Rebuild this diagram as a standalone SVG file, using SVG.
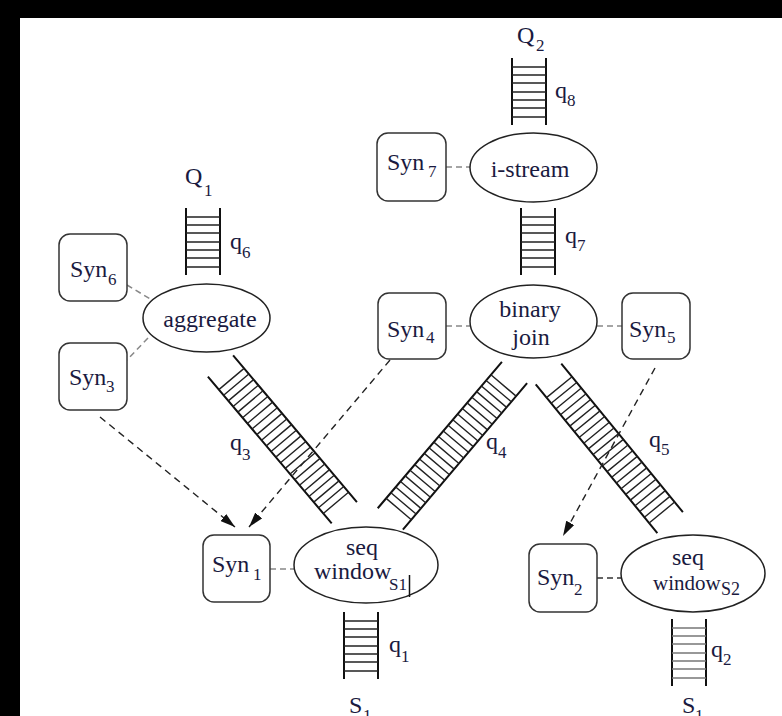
<svg xmlns="http://www.w3.org/2000/svg" xmlns:xlink="http://www.w3.org/1999/xlink" width="782" height="716" viewBox="0 0 782 716">
  <style>
    .t{font-family:"Liberation Serif","Times New Roman",serif;font-size:24px;fill:#1a1a40}
    .s{font-size:17px}
    .c{text-anchor:middle}
    .box{fill:#fff;stroke:#333;stroke-width:1.5}
    .op{fill:#fff;stroke:#222;stroke-width:1.5}
    .rail{stroke:#111;stroke-width:2;fill:none}
    .rung{stroke:#222;stroke-width:1.4;fill:none}
    .rung.lt{stroke:#777}
    .link{stroke:#888;stroke-width:1.5;stroke-dasharray:6 4;fill:none}
    .link.dk{stroke:#333}
    .arr{stroke:#222;stroke-width:1.4;stroke-dasharray:7 5;fill:none;marker-end:url(#ah)}
  </style>
  <defs>
    <marker id="ah" markerWidth="15" markerHeight="9" refX="15" refY="4.5" orient="auto" markerUnits="userSpaceOnUse">
      <path d="M0,0 L15,4.5 L0,9 z" fill="#111"/>
    </marker>
    <!-- upright queue: 34 wide, 67 tall -->
    <g id="vq">
      <path class="rail" d="M0,0 V67 M34,0 V67"/>
      <path class="rung" d="M0,9 H34 M0,17 H34 M0,25 H34 M0,34 H34 M0,42 H34 M0,50 H34 M0,59 H34"/>
    </g>
    <g id="vq-light">
      <path class="rail" d="M0,0 V67 M34,0 V67"/>
      <path class="rung lt" d="M0,9 H34 M0,17 H34 M0,25 H34 M0,34 H34 M0,42 H34 M0,50 H34 M0,59 H34"/>
    </g>
    <!-- long queue, laid along +x, centred on y=0 -->
    <g id="dq">
      <path class="rail" d="M0,-16.5 H192 M0,16.5 H192"/>
      <path class="rung" d="M17,-16.5 V16.5 M24.4,-16.5 V16.5 M31.7,-16.5 V16.5 M39.1,-16.5 V16.5 M46.4,-16.5 V16.5 M53.8,-16.5 V16.5 M61.2,-16.5 V16.5 M68.5,-16.5 V16.5 M75.9,-16.5 V16.5 M83.2,-16.5 V16.5 M90.6,-16.5 V16.5 M98,-16.5 V16.5 M105.3,-16.5 V16.5 M112.7,-16.5 V16.5 M120,-16.5 V16.5 M127.4,-16.5 V16.5 M134.8,-16.5 V16.5 M142.1,-16.5 V16.5 M149.5,-16.5 V16.5 M156.8,-16.5 V16.5 M164.2,-16.5 V16.5 M171.6,-16.5 V16.5 M179,-16.5 V16.5"/>
    </g>
  </defs>

  <!-- frame -->
  <rect x="0" y="0" width="782" height="716" fill="#fff"/>
  <rect x="0" y="0" width="782" height="18" fill="#000"/>
  <rect x="0" y="0" width="20" height="716" fill="#000"/>

  <!-- queues -->
  <g id="q8">
    <use xlink:href="#vq" x="512" y="58"/>
    <text class="t" x="517" y="43">Q</text><text class="t s" x="536" y="51">2</text>
    <text class="t" x="555" y="98">q</text><text class="t s" x="567" y="106">8</text>
  </g>
  <g id="q7">
    <use xlink:href="#vq" x="521" y="208"/>
    <text class="t" x="565" y="243">q</text><text class="t s" x="577" y="251">7</text>
  </g>
  <g id="q6">
    <use xlink:href="#vq" x="186" y="208"/>
    <text class="t" x="185" y="184">Q</text><text class="t s" x="204" y="196">1</text>
    <text class="t" x="230" y="249">q</text><text class="t s" x="242" y="258">6</text>
  </g>
  <g id="q3">
    <use xlink:href="#dq" transform="translate(220.5,366) rotate(49.85)"/>
    <text class="t" x="230" y="450">q</text><text class="t s" x="242" y="460">3</text>
  </g>
  <g id="q4">
    <use xlink:href="#dq" transform="translate(514.5,372.5) rotate(130.3)"/>
    <text class="t" x="486" y="449">q</text><text class="t s" x="498" y="458">4</text>
  </g>
  <g id="q5">
    <use xlink:href="#dq" transform="translate(548.5,374) rotate(50.7)"/>
    <text class="t" x="649" y="447">q</text><text class="t s" x="661" y="455">5</text>
  </g>
  <g id="q1">
    <use xlink:href="#vq" x="344" y="612"/>
    <text class="t" x="389" y="652">q</text><text class="t s" x="401" y="662">1</text>
    <text class="t" x="349" y="713">S</text><text class="t s" x="363" y="721">1</text>
  </g>
  <g id="q2">
    <use xlink:href="#vq-light" x="672" y="619"/>
    <text class="t" x="711" y="657">q</text><text class="t s" x="723" y="665">2</text>
    <text class="t" x="682" y="713">S</text><text class="t s" x="695" y="721">1</text>
  </g>

  <!-- connectors -->
  <g id="connectors">
    <path class="link" d="M446,167 H470"/>
    <path class="link" d="M127,285 L152,300"/>
    <path class="link" d="M148,338 L127,360"/>
    <path class="link" d="M446,326 H470"/>
    <path class="link" d="M597,326 H622"/>
    <path class="link" d="M270,569 H294"/>
    <path class="link dk" d="M597,578 H621"/>
    <path class="arr" d="M100,417 L235,527"/>
    <path class="arr" d="M390,360 L249,527"/>
    <path class="arr" d="M655,368 L563,536"/>
  </g>

  <!-- operators -->
  <g id="istream">
    <ellipse class="op" cx="533.5" cy="167.5" rx="63.5" ry="34.5"/>
    <text class="t c" x="530" y="177">i-stream</text>
  </g>
  <g id="binaryjoin">
    <ellipse class="op" cx="533.5" cy="321.5" rx="63.5" ry="36.5"/>
    <text class="t c" x="530" y="317">binary</text>
    <text class="t c" x="531" y="345">join</text>
  </g>
  <g id="aggregate">
    <ellipse class="op" cx="206.5" cy="318" rx="63.5" ry="34"/>
    <text class="t c" x="210" y="327">aggregate</text>
  </g>
  <g id="seqwindow1">
    <ellipse class="op" cx="366" cy="565" rx="72" ry="38"/>
    <text class="t c" x="362" y="555">seq</text>
    <text class="t" x="314" y="579">window</text><text class="t s" x="389" y="590">S1</text>
    <path d="M409.5,575 V597" stroke="#111" stroke-width="1.5"/>
  </g>
  <g id="seqwindow2">
    <ellipse class="op" cx="693" cy="573.5" rx="72" ry="38.5"/>
    <text class="t c" x="688" y="565">seq</text>
    <text class="t" style="font-size:21px" x="653" y="590">window</text><text class="t" style="font-size:18px" x="721" y="595">S2</text>
  </g>

  <!-- synopses -->
  <g id="syn7">
    <rect class="box" x="377" y="133" width="69" height="68" rx="11"/>
    <text class="t" x="387" y="170">Syn</text><text class="t s" x="428" y="177">7</text>
  </g>
  <g id="syn6">
    <rect class="box" x="59" y="234" width="68" height="67" rx="11"/>
    <text class="t" x="70" y="277">Syn</text><text class="t s" x="108" y="285">6</text>
  </g>
  <g id="syn3">
    <rect class="box" x="59" y="343" width="68" height="67" rx="11"/>
    <text class="t" x="69" y="385">Syn</text><text class="t s" x="106" y="392">3</text>
  </g>
  <g id="syn4">
    <rect class="box" x="378" y="293" width="68" height="66" rx="11"/>
    <text class="t" x="387" y="337">Syn</text><text class="t s" x="426" y="343">4</text>
  </g>
  <g id="syn5">
    <rect class="box" x="622" y="293" width="68" height="66" rx="11"/>
    <text class="t" x="629" y="337">Syn</text><text class="t s" x="667" y="343">5</text>
  </g>
  <g id="syn1">
    <rect class="box" x="203" y="535" width="67" height="67" rx="11"/>
    <text class="t" x="212" y="572">Syn</text><text class="t s" x="253" y="580">1</text>
  </g>
  <g id="syn2">
    <rect class="box" x="529" y="544" width="68" height="68" rx="11"/>
    <text class="t" x="537" y="585">Syn</text><text class="t s" x="574" y="595">2</text>
  </g>
</svg>
